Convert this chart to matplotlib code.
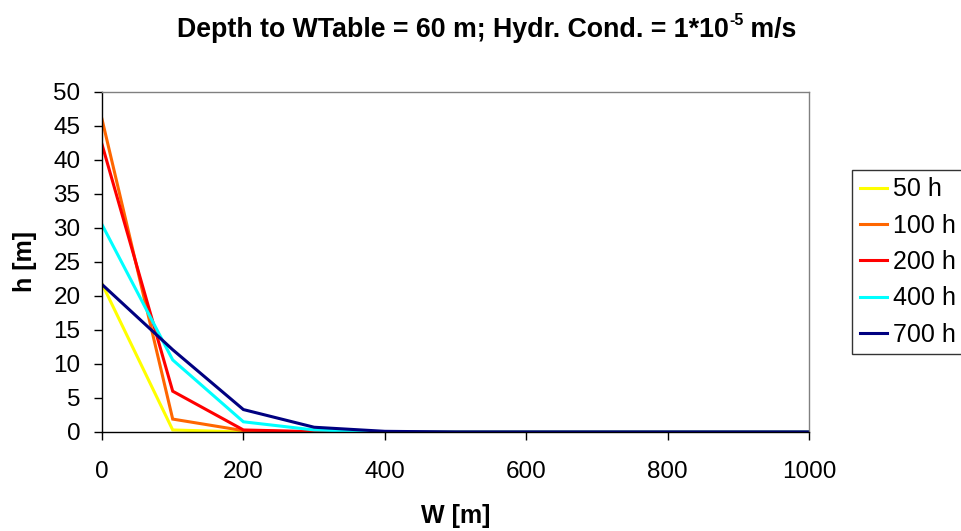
import matplotlib
matplotlib.use("Agg")
import matplotlib.pyplot as plt

# Distance from source W [m]
w = [0, 100, 200, 300, 400, 500, 600, 700, 800, 900, 1000]

# Mound height h [m] at each time
h_50 = [21.8, 0.3, 0.0, 0.0, 0.0, 0.0, 0.0, 0.0, 0.0, 0.0, 0.0]
h_100 = [46.0, 1.9, 0.2, 0.0, 0.0, 0.0, 0.0, 0.0, 0.0, 0.0, 0.0]
h_200 = [42.3, 6.0, 0.3, 0.05, 0.0, 0.0, 0.0, 0.0, 0.0, 0.0, 0.0]
h_400 = [30.5, 10.6, 1.5, 0.3, 0.0, 0.0, 0.0, 0.0, 0.0, 0.0, 0.0]
h_700 = [21.7, 12.1, 3.3, 0.7, 0.1, 0.0, 0.0, 0.0, 0.0, 0.0, 0.0]

series = [
    ("50 h", h_50, "#ffff00"),
    ("100 h", h_100, "#ff6600"),
    ("200 h", h_200, "#ff0000"),
    ("400 h", h_400, "#00ffff"),
    ("700 h", h_700, "#000080"),
]

title_main = "Depth to WTable = 60 m; Hydr. Cond. = 1*10"
title_sup = "-5"
title_tail = " m/s"

plt.rcParams["font.family"] = ["Liberation Sans", "DejaVu Sans"]

W_PX, H_PX = 962, 531
fig = plt.figure(figsize=(W_PX / 100, H_PX / 100), dpi=100)
ax = fig.add_axes([102 / W_PX, 1 - 432 / H_PX, 707 / W_PX, 340 / H_PX])

for label, vals, color in series:
    ax.plot(w, vals, color=color, lw=2.2, label=label, solid_joinstyle="miter")

ax.set_xlim(0, 1000)
ax.set_ylim(0, 50)
ax.set_xticks(range(0, 1001, 200))
ax.set_yticks(range(0, 51, 5))
ax.tick_params(direction="out", length=5.5, width=1, labelsize=17.5, colors="black")
ax.tick_params(axis="x", pad=15.5)
ax.tick_params(axis="y", pad=10)

for side in ("left", "bottom"):
    ax.spines[side].set_color("black")
    ax.spines[side].set_linewidth(1)
for side in ("top", "right"):
    ax.spines[side].set_color("#808080")
    ax.spines[side].set_linewidth(1)

ax.set_xlabel("W [m]", fontsize=18, fontweight="bold", labelpad=15)
ax.set_ylabel("h [m]", fontsize=18, fontweight="bold", labelpad=12)

# Title assembled from pieces so the exponent is a small raised "-5"
fig.canvas.draw()
renderer = fig.canvas.get_renderer()
tsize = 19.3
base_y = 1 - 37 / H_PX
t1 = fig.text(0, base_y, title_main, fontsize=tsize, fontweight="bold", va="baseline", ha="left")
t2 = fig.text(0, base_y + 12 / H_PX, title_sup, fontsize=tsize * 0.6, fontweight="bold", va="baseline", ha="left")
t3 = fig.text(0, base_y, title_tail, fontsize=tsize, fontweight="bold", va="baseline", ha="left")
widths = [t.get_window_extent(renderer).width for t in (t1, t2, t3)]
total = sum(widths)
x0 = 487 - total / 2
for t, wd in zip((t1, t2, t3), widths):
    t.set_x(x0 / W_PX)
    x0 += wd

leg = ax.legend(loc="upper left", bbox_to_anchor=(852 / W_PX, 1 - 170 / H_PX),
                bbox_transform=fig.transFigure, fontsize=18,
                frameon=True, fancybox=False, edgecolor="black", handlelength=1.1,
                handletextpad=0.25, labelspacing=0.49, borderpad=0.3, borderaxespad=0)
leg.get_frame().set_linewidth(1)

fig.savefig("out.png", dpi=100)
